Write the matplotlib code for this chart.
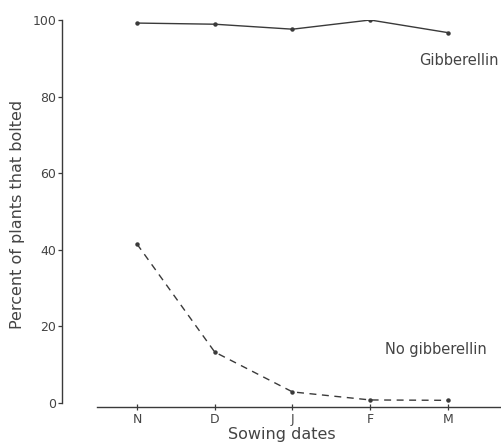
import matplotlib
matplotlib.use("Agg")
import matplotlib.pyplot as plt

months = ["N", "D", "J", "F", "M"]
gibberellin = [99.2, 98.9, 97.6, 100.0, 96.7]
no_gibberellin = [41.5, 13.3, 2.9, 0.8, 0.7]
y_ticks = [0, 20, 40, 60, 80, 100]

ink = "#3a3a3a"
fig = plt.figure(figsize=(5.02, 4.48), dpi=100)
ax = fig.add_axes([62/502, 1 - 407/448, 1 - 62/502, (407 - 20)/448])
x = list(range(len(months)))
ax.plot(x, gibberellin, color=ink, lw=1.0, marker="o", ms=2.2)
ax.plot(x, no_gibberellin, color=ink, lw=1.0, ls=(0, (5, 4)), marker="o", ms=2.2)

ax.set_xlim(-0.965, 4.695)
ax.set_ylim(-1.04, 100)
for s in ["top", "right"]:
    ax.spines[s].set_visible(False)
ax.spines["left"].set_bounds(0, 100)
ax.spines["bottom"].set_bounds(-0.51, 4.695)
for s in ["left", "bottom"]:
    ax.spines[s].set_color(ink)
    ax.spines[s].set_linewidth(1.0)

ax.set_yticks(y_ticks)
ax.set_yticklabels([str(v) for v in y_ticks], fontsize=9, color="#444")
ax.set_xticks(x)
ax.set_xticklabels(months, fontsize=9, color="#444")
ax.tick_params(axis="y", direction="out", length=3, width=0.9, color=ink, pad=1)
ax.tick_params(axis="x", direction="inout", length=4, width=0.9, color=ink, pad=2)

ax.set_xlabel("Sowing dates", fontsize=11.5, color="#444", labelpad=1)
fig.text(18/502, 1 - 214/448, "Percent of plants that bolted", rotation=90,
         ha="center", va="center", fontsize=11.5, color="#444")
ax.text(4.65, 89.5, "Gibberellin", fontsize=10.5, color="#444", ha="right", va="center")
ax.text(4.5, 14.0, "No gibberellin", fontsize=10.5, color="#444", ha="right", va="center")

fig.savefig("out.png", dpi=100)
